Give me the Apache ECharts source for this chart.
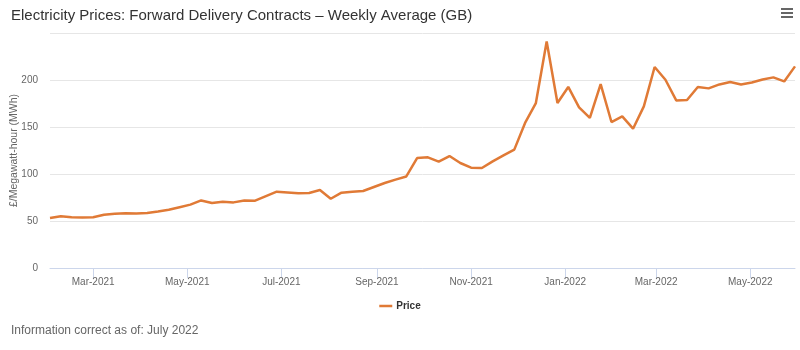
<!DOCTYPE html>
<html>
<head>
<meta charset="utf-8">
<script src="https://cdn.jsdelivr.net/npm/echarts@6/dist/echarts.min.js"></script>
<style>html,body{margin:0;padding:0;background:#fff}#c{width:800px;height:350px}</style>
</head>
<body>
<div id="c"></div>
<script>
const weekDates = [
  '2021-02-01','2021-02-08','2021-02-15','2021-02-22','2021-03-01','2021-03-08','2021-03-15','2021-03-22','2021-03-29',
  '2021-04-05','2021-04-12','2021-04-19','2021-04-26','2021-05-03','2021-05-10','2021-05-17','2021-05-24','2021-05-31',
  '2021-06-07','2021-06-14','2021-06-21','2021-06-28','2021-07-05','2021-07-12','2021-07-19','2021-07-26',
  '2021-08-02','2021-08-09','2021-08-16','2021-08-23','2021-08-30','2021-09-06','2021-09-13','2021-09-20','2021-09-27',
  '2021-10-04','2021-10-11','2021-10-18','2021-10-25','2021-11-01','2021-11-08','2021-11-15','2021-11-22','2021-11-29',
  '2021-12-06','2021-12-13','2021-12-20','2021-12-27','2022-01-03','2022-01-10','2022-01-17','2022-01-24','2022-01-31',
  '2022-02-07','2022-02-14','2022-02-21','2022-02-28','2022-03-07','2022-03-14','2022-03-21','2022-03-28',
  '2022-04-04','2022-04-11','2022-04-18','2022-04-25','2022-05-02','2022-05-09','2022-05-16','2022-05-23','2022-05-30'
];
const priceValues = [
  53.2, 55.1, 54.0, 53.7, 54.0, 56.6, 57.8, 58.3, 57.9, 58.6,
  60.2, 62.0, 64.7, 67.4, 71.9, 69.1, 70.5, 69.8, 71.9, 71.6,
  76.4, 81.2, 80.3, 79.4, 79.8, 83.0, 73.7, 80.1, 81.0, 81.9,
  86.2, 90.4, 94.0, 97.4, 117.0, 117.7, 113.1, 119.1, 111.7, 106.7,
  106.4, 113.4, 119.8, 125.9, 154.3, 175.5, 241.0, 175.5, 192.6, 170.9,
  159.6, 195.7, 155.3, 161.3, 148.2, 171.9, 213.8, 200.3, 178.3, 178.7,
  192.6, 191.1, 195.3, 197.9, 195.3, 197.4, 200.6, 202.8, 198.5, 214.5
];
const tickDates = ['2021-03-01','2021-05-01','2021-07-01','2021-09-01','2021-11-01','2022-01-01','2022-03-01','2022-05-01'];
const tickLabels = ['Mar-2021','May-2021','Jul-2021','Sep-2021','Nov-2021','Jan-2022','Mar-2022','May-2022'];
const yTicks = [0, 50, 100, 150, 200, 250];
const seriesName = 'Price';

function ts(s) { const p = s.split('-').map(Number); return Date.UTC(p[0], p[1] - 1, p[2]); }
const tickTs = tickDates.map(ts);
const labelMap = {};
tickTs.forEach((t, i) => { labelMap[t] = tickLabels[i]; });
const seriesData = weekDates.map((d, i) => [ts(d), priceValues[i]]);

const FONT = '"Liberation Sans", Arial, sans-serif';
const chart = echarts.init(document.getElementById('c'), null, {renderer: 'canvas'});
chart.setOption({
  backgroundColor: '#ffffff',
  animation: false,
  title: {
    text: 'Electricity Prices: Forward Delivery Contracts \u2013 Weekly Average (GB)',
    left: 6, top: 3,
    textStyle: {fontFamily: FONT, fontSize: 15, fontWeight: 'normal', color: '#333333'}
  },
  graphic: [
    {type: 'rect', left: 781, top: 8, shape: {width: 12, height: 2}, style: {fill: '#666666'}},
    {type: 'rect', left: 781, top: 12, shape: {width: 12, height: 2}, style: {fill: '#666666'}},
    {type: 'rect', left: 781, top: 16, shape: {width: 12, height: 2}, style: {fill: '#666666'}},
    {type: 'text', left: 11, top: 325, style: {text: 'Information correct as of: July 2022', fontFamily: FONT, fontSize: 12, fill: '#666666'}}
  ],
  legend: {
    left: 'center', top: 296,
    icon: 'rect', itemWidth: 13, itemHeight: 2.5, itemGap: 10,
    textStyle: {fontFamily: FONT, fontSize: 10, fontWeight: 'bold', color: '#333333', padding: [0, 0, 0, -1]},
    data: [seriesName]
  },
  grid: {left: 50, right: 5, top: 33, height: 235, outerBoundsMode: 'none', containLabel: false},
  xAxis: {
    type: 'value',
    min: seriesData[0][0], max: seriesData[seriesData.length - 1][0],
    axisLine: {show: true, lineStyle: {color: '#ccd6eb', width: 1}},
    axisTick: {show: true, length: 10, lineStyle: {color: '#ccd6eb'}, customValues: tickTs},
    axisLabel: {
      customValues: tickTs, margin: 9,
      fontFamily: FONT, fontSize: 10, color: '#666666',
      formatter: v => labelMap[v] || ''
    },
    splitLine: {show: false}
  },
  yAxis: {
    type: 'value', min: yTicks[0], max: yTicks[yTicks.length - 1], interval: yTicks[1] - yTicks[0],
    name: '\u00a3/Megawatt-hour (MWh)', nameLocation: 'middle', nameRotate: 90, nameGap: 30,
    nameMoveOverlap: false,
    nameTextStyle: {fontFamily: FONT, fontSize: 10.5, color: '#666666'},
    axisLine: {show: false}, axisTick: {show: false},
    axisLabel: {margin: 12, showMaxLabel: false, fontFamily: FONT, fontSize: 10, color: '#666666',
      verticalAlign: 'middle', padding: [0, 0, 9, 0]},
    splitLine: {show: true, lineStyle: {color: '#e6e6e6', width: 1}}
  },
  series: [{
    name: seriesName, type: 'line', data: seriesData,
    showSymbol: false, symbol: 'none',
    lineStyle: {color: '#e07a36', width: 2.5},
    itemStyle: {color: '#e07a36'}
  }]
});
</script>
</body>
</html>
